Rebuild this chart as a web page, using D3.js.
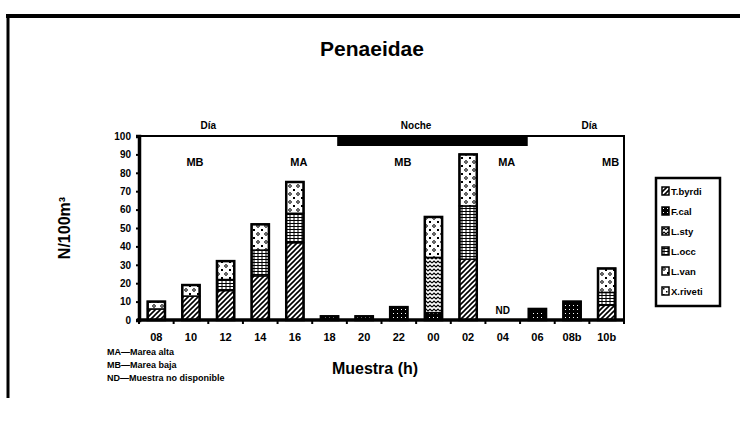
<!DOCTYPE html>
<html>
<head>
<meta charset="utf-8">
<script src="https://cdn.jsdelivr.net/npm/d3@7"></script>
<style>
  html, body { margin: 0; padding: 0; background: #fff; }
  svg { display: block; font-family: "Liberation Sans", Arial, sans-serif; font-weight: bold; }
</style>
</head>
<body>
<svg id="chart" width="740" height="421"></svg>
<script>
// Sampling hours (24 h cycle, repeated morning hours marked "b")
const categories = ["08", "10", "12", "14", "16", "18", "20", "22", "00", "02", "04", "06", "08b", "10b"];

// Species (legend order, stacked bottom to top)
const seriesNames = ["T.byrdi", "F.cal", "L.sty", "L.occ", "L.van", "X.riveti"];

// Density N/100 m³ per species and sample
const tByrdi  = [6, 13, 16, 24, 42, 0, 0, 0, 0, 33, 0, 0, 0, 8];
const fCal    = [0, 0, 0, 0, 0, 2, 2, 7, 4, 0, 0, 6, 10, 0];
const lSty    = [0, 0, 0, 0, 0, 0, 0, 0, 30, 0, 0, 0, 0, 0];
const lOcc    = [0, 0, 6, 14, 16, 0, 0, 0, 0, 29, 0, 0, 0, 7];
const lVan    = [4, 6, 10, 14, 17, 0, 0, 0, 22, 28, 0, 0, 0, 13];
const xRiveti = [0, 0, 0, 0, 0, 0, 0, 0, 0, 0, 0, 0, 0, 0];

const yTicks = [0, 10, 20, 30, 40, 50, 60, 70, 80, 90, 100];

// Tide marks and missing samples
const tideLabels = [
  { cat: "10", text: "MB" }, { cat: "16", text: "MA" }, { cat: "22", text: "MB" },
  { cat: "04", text: "MA" }, { cat: "10b", text: "MB" }
];
const missing = ["04"];

// Day / night periods along the top
const periods = [
  { from: "08", to: "14", text: "Día" },
  { from: "20", to: "02", text: "Noche" },
  { from: "08b", to: "10b", text: "Día" }
];
const nightSpan = ["18", "06"];

const notes = ["MA—Marea alta", "MB—Marea baja", "ND—Muestra no disponible"];

const seriesValues = [tByrdi, fCal, lSty, lOcc, lVan, xRiveti];
const rows = categories.map((c, i) => {
  const r = { cat: c };
  seriesNames.forEach((s, k) => r[s] = seriesValues[k][i]);
  return r;
});

const svg = d3.select("#chart");
const defs = svg.append("defs");

// Fill patterns for each species
function pat(id, w, h, draw) {
  const p = defs.append("pattern").attr("id", id).attr("patternUnits", "userSpaceOnUse")
    .attr("width", w).attr("height", h);
  p.append("rect").attr("width", w).attr("height", h).attr("fill", "#fff");
  draw(p);
}
pat("p0", 5, 5, p => {
  p.append("path").attr("d", "M-1,6 L6,-1 M-1,1 L1,-1 M4,6 L6,4").attr("stroke", "#000").attr("stroke-width", 1.6);
});
pat("p1", 4, 4, p => {
  p.select("rect").attr("fill", "#000");
  p.append("rect").attr("x", 1).attr("y", 1).attr("width", 1).attr("height", 1).attr("fill", "#fff");
});
pat("p2", 8, 4, p => {
  p.append("path").attr("d", "M0,3 L2,1 L4,3 L6,1 L8,3").attr("fill", "none").attr("stroke", "#000").attr("stroke-width", 1.2);
});
pat("p3", 8, 3, p => {
  p.append("path").attr("d", "M0,1.5 H8 M2,0 V3 M6,0 V3").attr("stroke", "#000").attr("stroke-width", 1);
});
pat("p4", 8, 8, p => {
  p.append("circle").attr("cx", 2).attr("cy", 2).attr("r", 1.3).attr("fill", "none").attr("stroke", "#000").attr("stroke-width", 1);
  p.append("rect").attr("x", 5).attr("y", 5).attr("width", 2).attr("height", 2).attr("fill", "#000");
});
pat("p5", 6, 6, p => {
  p.append("rect").attr("x", 1).attr("y", 1).attr("width", 1.5).attr("height", 1.5).attr("fill", "#000");
  p.append("rect").attr("x", 4).attr("y", 4).attr("width", 1.5).attr("height", 1.5).attr("fill", "#000");
});
const patternOf = d3.scaleOrdinal().domain(seriesNames).range(["p0", "p1", "p2", "p3", "p4", "p5"]);

// Outer frame (top and left edges)
svg.append("line").attr("x1", 6).attr("x2", 740).attr("y1", 16).attr("y2", 16).attr("stroke", "#000").attr("stroke-width", 4);
svg.append("line").attr("x1", 8).attr("x2", 8).attr("y1", 14).attr("y2", 398).attr("stroke", "#000").attr("stroke-width", 3);

// Title
svg.append("text").attr("x", 372).attr("y", 56).attr("text-anchor", "middle")
  .attr("font-size", 21).text("Penaeidae");

const plotLeft = 139, plotRight = 624, plotTop = 136, plotBottom = 320;
const x = d3.scaleBand().domain(categories).range([plotLeft, plotRight]).paddingInner(0.5).paddingOuter(0.25);
const y = d3.scaleLinear().domain([0, 100]).range([plotBottom, plotTop]);

// Plot frame top and right
svg.append("path").attr("d", `M${plotLeft},${plotTop} H${plotRight} V${plotBottom}`).attr("fill", "none")
  .attr("stroke", "#000").attr("stroke-width", 2);

// Night bar
svg.append("rect").attr("x", x(nightSpan[0]) + x.bandwidth() - 1)
  .attr("y", plotTop + 1).attr("width", x(nightSpan[1]) - x(nightSpan[0]) - x.bandwidth())
  .attr("height", 9).attr("fill", "#000");

// Stacked bars
const stack = d3.stack().keys(seriesNames)(rows);
svg.append("g").selectAll("g").data(stack).join("g")
  .attr("fill", d => `url(#${patternOf(d.key)})`)
  .selectAll("rect").data(d => d.filter(s => s[1] - s[0] > 0)).join("rect")
  .attr("x", d => x(d.data.cat)).attr("width", x.bandwidth())
  .attr("y", d => y(d[1])).attr("height", d => y(d[0]) - y(d[1]))
  .attr("stroke", "#000").attr("stroke-width", 1.5);

// Outline around each full bar
svg.append("g").selectAll("rect").data(rows).join("rect")
  .attr("x", d => x(d.cat)).attr("width", x.bandwidth())
  .attr("y", d => y(d3.sum(seriesNames, s => d[s])))
  .attr("height", d => plotBottom - y(d3.sum(seriesNames, s => d[s])))
  .attr("fill", "none").attr("stroke", "#000").attr("stroke-width", 2.5);

// Y axis
const yAxis = svg.append("g").attr("transform", `translate(${plotLeft},0)`)
  .call(d3.axisLeft(y).tickValues(yTicks).tickSize(3).tickPadding(5));
yAxis.select(".domain").attr("stroke-width", 3.5);
yAxis.selectAll(".tick line").attr("stroke-width", 2);
yAxis.selectAll("text").attr("font-size", 10).attr("font-weight", "bold").attr("font-family", "Liberation Sans, Arial, sans-serif");

// X axis: ticks between categories
const xAxis = svg.append("g").attr("transform", `translate(0,${plotBottom})`);
xAxis.append("line").attr("x1", plotLeft - 2).attr("x2", plotRight + 1).attr("stroke", "#000").attr("stroke-width", 3.5);
const bounds = d3.range(categories.length + 1).map(i => plotLeft + i * (plotRight - plotLeft) / categories.length);
xAxis.selectAll(".tk").data(bounds).join("line").attr("class", "tk")
  .attr("x1", d => d).attr("x2", d => d).attr("y1", 0).attr("y2", 4)
  .attr("stroke", "#000").attr("stroke-width", 2);
xAxis.selectAll(".lb").data(categories).join("text").attr("class", "lb")
  .attr("x", d => x(d) + x.bandwidth() / 2).attr("y", 21).attr("text-anchor", "middle")
  .attr("font-size", 11).text(d => d);

// Axis titles
svg.append("text").attr("transform", "translate(70,228) rotate(-90)").attr("text-anchor", "middle")
  .attr("font-size", 16).text("N/100m³");
svg.append("text").attr("x", 375).attr("y", 374).attr("text-anchor", "middle")
  .attr("font-size", 16).text("Muestra (h)");

// Tide labels
svg.append("g").selectAll("text").data(tideLabels).join("text")
  .attr("x", d => x(d.cat) + x.bandwidth() / 2 + 4).attr("y", 166).attr("text-anchor", "middle")
  .attr("font-size", 11).text(d => d.text);

// Missing sample marks
svg.append("g").selectAll("text").data(missing).join("text")
  .attr("x", d => x(d) + x.bandwidth() / 2).attr("y", 314).attr("text-anchor", "middle")
  .attr("font-size", 10).text("ND");

// Period labels
svg.append("g").selectAll("text").data(periods).join("text")
  .attr("x", d => (x(d.from) + x(d.to) + x.bandwidth()) / 2).attr("y", 129).attr("text-anchor", "middle")
  .attr("font-size", 10).text(d => d.text);

// Footnotes
svg.append("g").selectAll("text").data(notes).join("text")
  .attr("x", 107).attr("y", (d, i) => 355 + i * 13).attr("font-size", 9).text(d => d);

// Legend
const lg = svg.append("g").attr("transform", "translate(656,178)");
lg.append("rect").attr("width", 64).attr("height", 128).attr("fill", "#fff").attr("stroke", "#000").attr("stroke-width", 2.5);
const li = lg.selectAll("g").data(seriesNames).join("g")
  .attr("transform", (d, i) => `translate(6,${9 + i * 20})`);
li.append("rect").attr("width", 7).attr("height", 8)
  .attr("fill", d => `url(#${patternOf(d)})`).attr("stroke", "#000").attr("stroke-width", 1.5);
li.append("text").attr("x", 9).attr("y", 8).attr("font-size", 9.5).text(d => d);
</script>
</body>
</html>
